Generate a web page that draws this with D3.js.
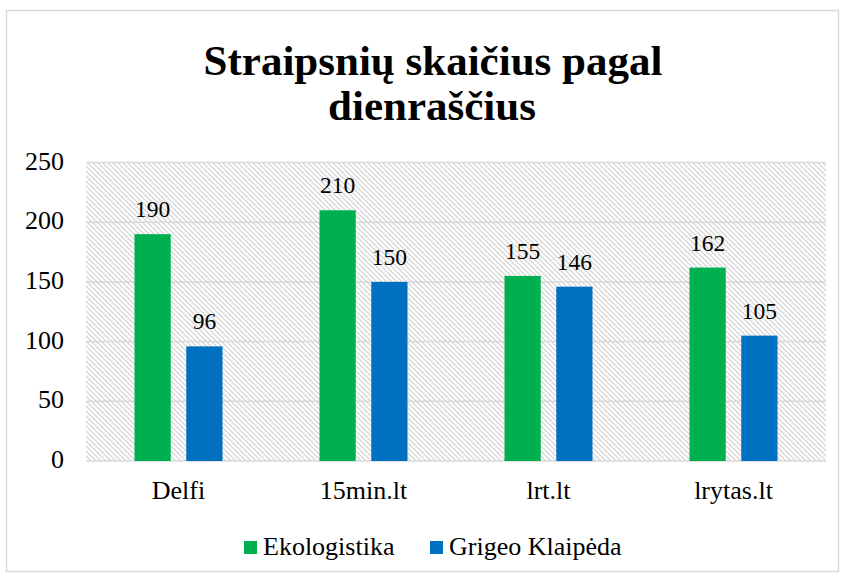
<!DOCTYPE html>
<meta charset="utf-8">
<title>Straipsnių skaičius pagal dienraščius</title>
<script src="https://d3js.org/d3.v7.min.js"></script>
<style>
  body { margin: 0; background: #fff; }
  svg text { font-family: "Liberation Serif", Tinos, "Times New Roman", serif; fill: #000; }
</style>
<body>
<svg id="chart" width="846" height="580"></svg>
</body>
<script>
  const categories = ["Delfi", "15min.lt", "lrt.lt", "lrytas.lt"]
  const seriesNames = ["Ekologistika", "Grigeo Klaipėda"]
  const ekologistika = [190, 210, 155, 162]
  const grigeo = [96, 150, 146, 105]
  const yTicks = [0, 50, 100, 150, 200, 250]
  const colors = ["#00b050", "#0070c0"]

  const FONT = "Liberation Serif"
  const svg = d3.select("#chart")

  // outer frame
  svg.append("rect")
    .attr("x", 6.5).attr("y", 10.5)
    .attr("width", 832).attr("height", 561)
    .attr("fill", "#fff")
    .attr("stroke", "#d9d9d9")
    .attr("stroke-width", 1.5)

  // hatch pattern for plot background
  let defs = svg.append("defs")
  let pat = defs.append("pattern")
    .attr("id", "hatch")
    .attr("patternUnits", "userSpaceOnUse")
    .attr("width", 5).attr("height", 5)
  pat.append("path")
    .attr("d", "M-1,-1 L6,6 M-1,4 L1,6 M4,-1 L6,1")
    .attr("stroke", "#d6d6d6")
    .attr("stroke-width", 1.3)

  // title
  let title = svg.append("text")
    .attr("font-family", FONT)
    .attr("font-size", 43)
    .attr("font-weight", "bold")
    .attr("text-anchor", "middle")
  title.append("tspan").attr("x", 433).attr("y", 75).text("Straipsnių skaičius pagal")
  title.append("tspan").attr("x", 432).attr("y", 120).text("dienraščius")

  const plotLeft = 86, plotRight = 826, plotTop = 162.5, plotBottom = 461

  let x = d3.scaleBand().domain(categories).range([plotLeft, plotRight])
  let xs = d3.scaleBand().domain(seriesNames).range([-44, 44]).paddingInner(0.3)
  let y = d3.scaleLinear().domain([0, 250]).range([plotBottom, plotTop])

  svg.append("rect")
    .attr("x", plotLeft).attr("y", plotTop)
    .attr("width", plotRight - plotLeft).attr("height", plotBottom - plotTop)
    .attr("fill", "url(#hatch)")

  // gridlines
  svg.append("g").selectAll("line")
    .data(yTicks)
    .enter().append("line")
    .attr("x1", plotLeft).attr("x2", plotRight)
    .attr("y1", d => y(d)).attr("y2", d => y(d))
    .attr("stroke", "#d9d9d9")
    .attr("stroke-width", 1.5)

  // y labels
  svg.append("g").selectAll("text")
    .data(yTicks)
    .enter().append("text")
    .attr("font-family", FONT)
    .attr("font-size", 26)
    .attr("x", 64).attr("y", d => y(d) + 7)
    .attr("text-anchor", "end")
    .text(d => d)

  // bars
  const series = [ekologistika, grigeo]
  series.forEach((vals, si) => {
    let g = svg.append("g")
    g.selectAll("rect")
      .data(vals)
      .enter().append("rect")
      .attr("x", (d, i) => x(categories[i]) + x.bandwidth() / 2 + xs(seriesNames[si]))
      .attr("y", d => y(d))
      .attr("width", xs.bandwidth())
      .attr("height", d => plotBottom - y(d))
      .attr("fill", colors[si])
    g.selectAll("text")
      .data(vals)
      .enter().append("text")
      .attr("font-family", FONT)
      .attr("font-size", 23.5)
      .attr("x", (d, i) => x(categories[i]) + x.bandwidth() / 2 + xs(seriesNames[si]) + xs.bandwidth() / 2)
      .attr("y", d => y(d) - 17)
      .attr("text-anchor", "middle")
      .text(d => d)
  })

  // x labels
  svg.append("g").selectAll("text")
    .data(categories)
    .enter().append("text")
    .attr("font-family", FONT)
    .attr("font-size", 26)
    .attr("x", d => x(d) + x.bandwidth() / 2)
    .attr("y", 499)
    .attr("text-anchor", "middle")
    .text(d => d)

  // legend
  let legend = svg.append("g")
  const legX = [244, 430]
  seriesNames.forEach((name, i) => {
    legend.append("rect")
      .attr("x", legX[i]).attr("y", 541)
      .attr("width", 13).attr("height", 13)
      .attr("fill", colors[i])
    legend.append("text")
      .attr("font-family", FONT)
      .attr("font-size", 26)
      .attr("x", legX[i] + 19).attr("y", 555)
      .text(name)
  })
</script>
</html>
